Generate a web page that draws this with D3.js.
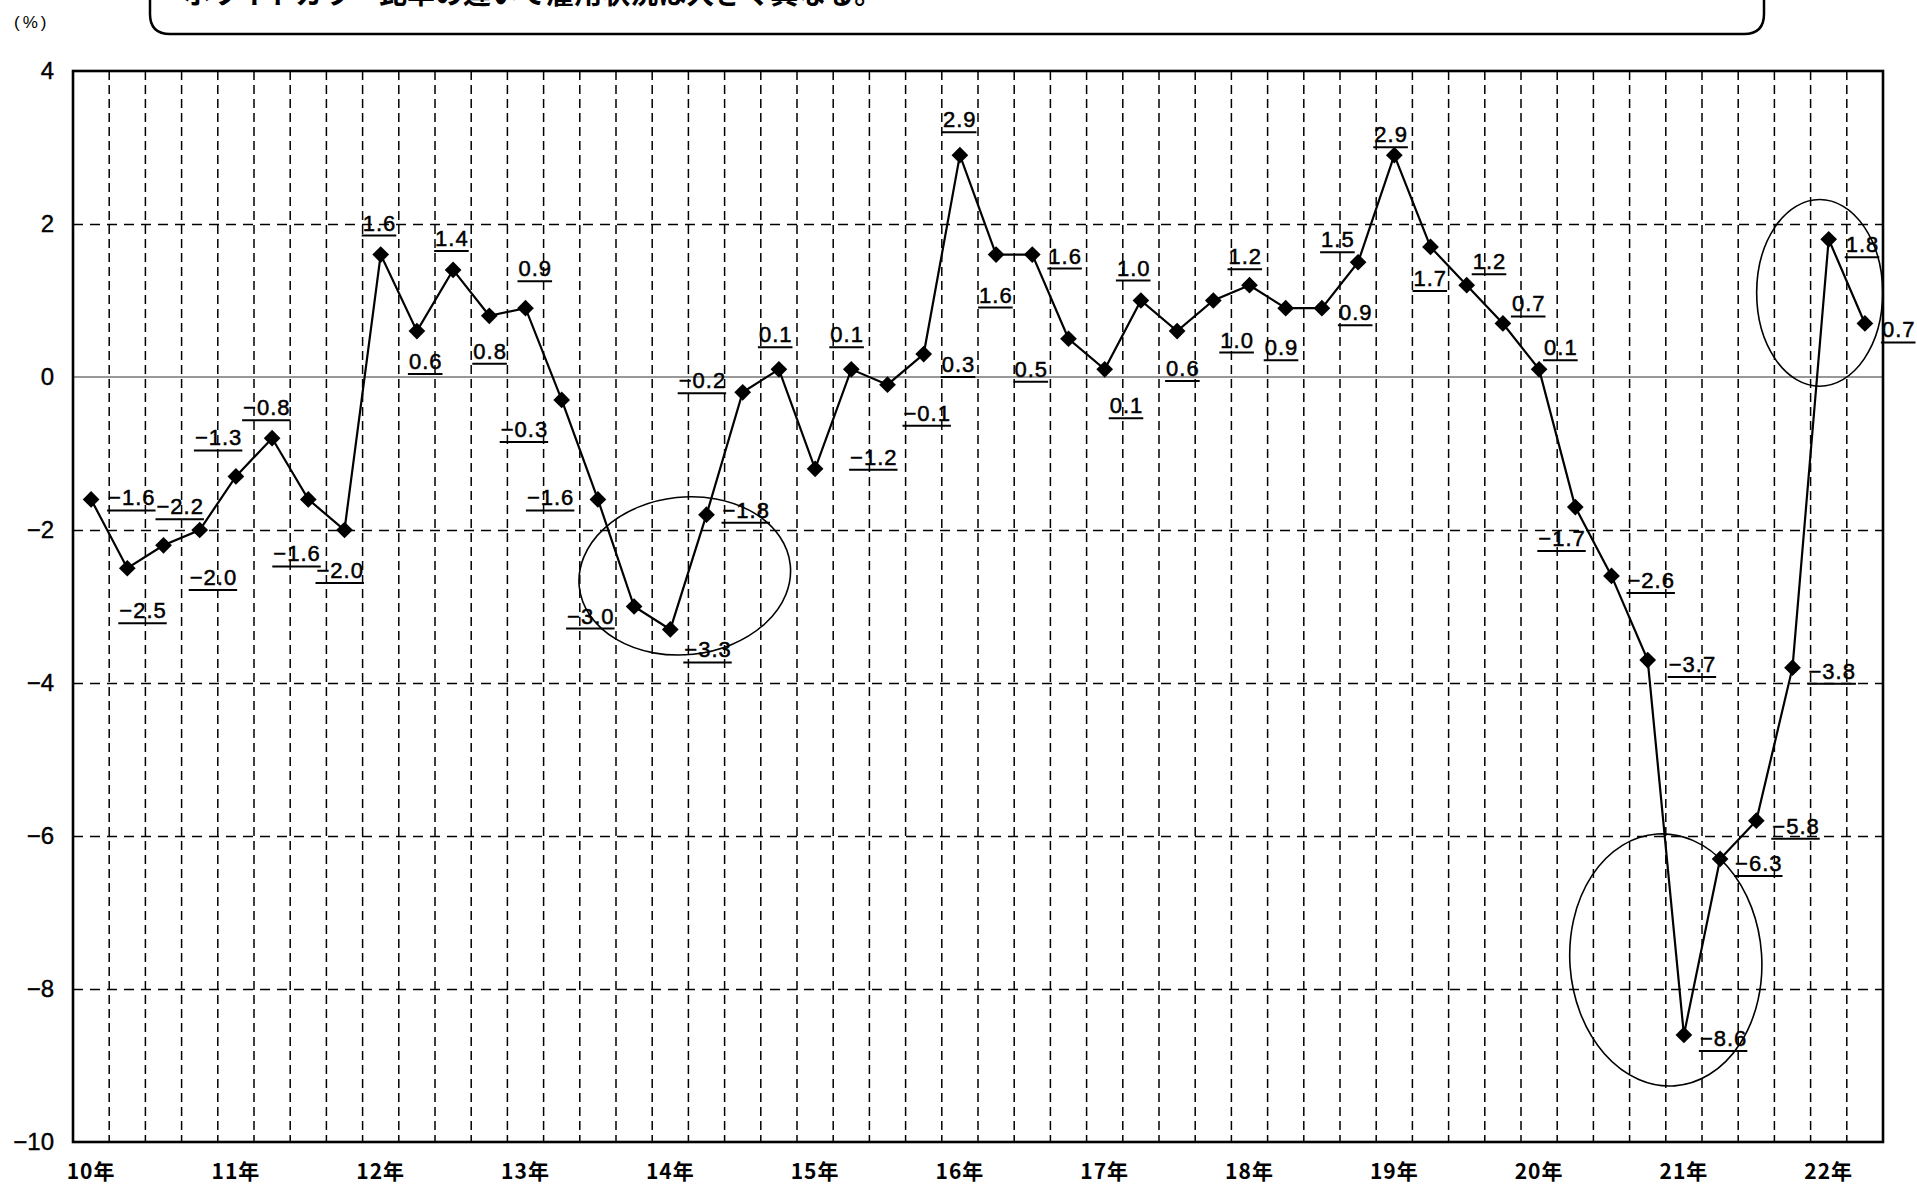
<!DOCTYPE html>
<html>
<head>
<meta charset="utf-8">
<script src="https://cdn.jsdelivr.net/npm/d3@7"></script>
<style>
  body { margin: 0; background: #fff; }
  svg { display: block; }
  .tick text { fill: #000; }
</style>
</head>
<body>
<svg width="1917" height="1189"></svg>
<script>
// years shown on the x axis, 4 quarters each (22年 has only 2)
const years = ['10年', '11年', '12年', '13年', '14年', '15年', '16年', '17年', '18年', '19年', '20年', '21年', '22年'];
const quarterCount = [4, 4, 4, 4, 4, 4, 4, 4, 4, 4, 4, 4, 2];

// % change
const values = [
  -1.6, -2.5, -2.2, -2.0,
  -1.3, -0.8, -1.6, -2.0,
  1.6, 0.6, 1.4, 0.8,
  0.9, -0.3, -1.6, -3.0,
  -3.3, -1.8, -0.2, 0.1,
  -1.2, 0.1, -0.1, 0.3,
  2.9, 1.6, 1.6, 0.5,
  0.1, 1.0, 0.6, 1.0,
  1.2, 0.9, 0.9, 1.5,
  2.9, 1.7, 1.2, 0.7,
  0.1, -1.7, -2.6, -3.7,
  -8.6, -6.3, -5.8, -3.8,
  1.8, 0.7
];

const yTicks = [4, 2, 0, -2, -4, -6, -8, -10];
const yGrid = [2, -2, -4, -6, -8];

// where each value label sits relative to its point [dx, dy of baseline]
const labelOffsets = [
  [17, 6], [-8, 50], [-7, -31], [-10, 55],
  [-41, -31], [-29, -23], [-35, 62], [-28, 48],
  [-18, -24], [-8, 38], [-18, -24], [-16, 43],
  [-7, -32], [-61, 37], [-71, 6], [-67, 17],
  [14, 28], [16, 3], [-64, -4], [-20, -27],
  [35, -4], [-21, -27], [16, 36], [18, 18],
  [-17, -28], [-17, 48], [16, 9], [-54, 38],
  [5, 44], [-24, -25], [-11, 45], [7, 47],
  [-21, -21], [-21, 47], [17, 12], [-37, -15],
  [-20, -13], [-17, 39], [6, -16], [9, -12],
  [5, -14], [-37, 39], [16, 12], [21, 12],
  [16, 11], [15, 12], [16, 13], [16, 11],
  [17, 13], [17, 14]
];

// hand drawn ellipses: centre (index, value), half sizes (steps, value units)
const circled = [
  { at: 16.4, value: -2.6, rx: 2.93, ry: 1.03, rot: -6 },
  { at: 43.5, value: -7.62, rx: 2.65, ry: 1.65, rot: -4 },
  { at: 47.75, value: 1.1, rx: 1.74, ry: 1.22, rot: 0 }
];

const headline = 'ホワイトカラー比率の違いで雇用状況は大きく異なる。';

let svg, g, x, y, width, height, margin;
let categories = [];

function setSVG() {
  svg = d3.select('svg');
  margin = { top: 71, right: 34, bottom: 47, left: 73 };
  width = +svg.attr('width') - margin.left - margin.right;
  height = +svg.attr('height') - margin.top - margin.bottom;

  years.forEach(function (yr, i) {
    for (let q = 1; q <= quarterCount[i]; q++) {
      categories.push(yr + q);
    }
  });

  x = d3.scaleBand().domain(categories).range([0, width]).padding(0);
  y = d3.scaleLinear().domain([-10, 4]).range([height, 0]);

  g = svg
    .append('g')
    .attr('transform', 'translate(' + margin.left + ',' + margin.top + ')');
}

function setHeadline() {
  // box runs off the top of the page, only its bottom is visible
  const x0 = 150, x1 = 1764, yb = 34, r = 20;
  svg
    .append('path')
    .attr('d', 'M' + x0 + ',-20 L' + x0 + ',' + (yb - r) +
      ' Q' + x0 + ',' + yb + ' ' + (x0 + r) + ',' + yb +
      ' L' + (x1 - r) + ',' + yb +
      ' Q' + x1 + ',' + yb + ' ' + x1 + ',' + (yb - r) +
      ' L' + x1 + ',-20')
    .attr('fill', 'none')
    .attr('stroke', '#000')
    .attr('stroke-width', 2.5);

  svg
    .append('text')
    .attr('x', 183)
    .attr('y', 4)
    .attr('font-family', '"Noto Sans CJK JP", sans-serif')
    .attr('font-weight', 'bold')
    .attr('font-size', 28)
    .text(headline);

  svg
    .append('text')
    .attr('x', 14)
    .attr('y', 28)
    .attr('font-family', '"Liberation Sans", Arial, sans-serif')
    .attr('font-size', 17)
    .attr('letter-spacing', 3)
    .text('(%)');
}

function setGrid() {
  // vertical dashed lines between quarters
  g.append('g')
    .attr('class', 'vgrid')
    .selectAll('line')
    .data(categories.slice(1))
    .enter()
    .append('line')
    .attr('x1', function (d) { return x(d); })
    .attr('x2', function (d) { return x(d); })
    .attr('y1', 0)
    .attr('y2', height)
    .attr('stroke', '#000')
    .attr('stroke-width', 1.5)
    .attr('stroke-dasharray', '9,5');

  g.append('g')
    .attr('class', 'grid')
    .call(d3.axisLeft(y).tickValues(yGrid).tickSize(-width).tickFormat(''))
    .call(function (s) { s.select('.domain').remove(); })
    .selectAll('line')
    .attr('stroke', '#000')
    .attr('stroke-width', 1.5)
    .attr('stroke-dasharray', '10,7');

  g.append('line')
    .attr('x1', 0)
    .attr('x2', width)
    .attr('y1', y(0))
    .attr('y2', y(0))
    .attr('stroke', '#333')
    .attr('stroke-width', 1.2);
}

function setAxes() {
  g.append('g')
    .attr('class', 'y-axis axis')
    .call(d3.axisLeft(y).tickValues(yTicks).tickSize(0).tickPadding(19).tickFormat(d3.format('d')))
    .call(function (s) { s.select('.domain').remove(); })
    .selectAll('text')
    .attr('font-family', '"Liberation Sans", Arial, sans-serif')
    .attr('font-size', 24)
    .attr('stroke', '#000')
    .attr('stroke-width', 0.4);

  const yearStarts = [];
  let k = 0;
  quarterCount.forEach(function (n) {
    yearStarts.push(categories[k]);
    k += n;
  });

  g.append('g')
    .attr('class', 'x-axis axis')
    .attr('transform', 'translate(0,' + height + ')')
    .call(d3.axisBottom(x).tickValues(yearStarts).tickSize(0).tickPadding(22)
      .tickFormat(function (d, i) { return years[i]; }))
    .call(function (s) { s.select('.domain').remove(); })
    .selectAll('text')
    .attr('font-family', '"Noto Sans CJK JP", sans-serif')
    .attr('font-weight', 'bold')
    .attr('font-size', 21)
    .attr('letter-spacing', 1);

  // frame
  g.append('rect')
    .attr('x', 0)
    .attr('y', 0)
    .attr('width', width)
    .attr('height', height)
    .attr('fill', 'none')
    .attr('stroke', '#000')
    .attr('stroke-width', 2.6);
}

function cx(i) {
  return x(categories[i]) + x.bandwidth() / 2;
}

function setLine() {
  const line = d3
    .line()
    .x(function (d, i) { return cx(i); })
    .y(function (d) { return y(d); });

  g.append('path')
    .datum(values)
    .attr('fill', 'none')
    .attr('stroke', '#000')
    .attr('stroke-width', 2.2)
    .attr('d', line);

  g.append('g')
    .selectAll('path')
    .data(values)
    .enter()
    .append('path')
    .attr('d', d3.symbol(d3.symbolSquare, 140))
    .attr('transform', function (d, i) {
      return 'translate(' + cx(i) + ',' + y(d) + ') rotate(45)';
    })
    .attr('fill', '#000');
}

function setLabels() {
  const fmt = d3.format('.1f');
  const labelG = g
    .append('g')
    .selectAll('g')
    .data(values)
    .enter()
    .append('g')
    .attr('transform', function (d, i) {
      return 'translate(' + (cx(i) + labelOffsets[i][0]) + ',' + (y(d) + labelOffsets[i][1]) + ')';
    });

  labelG
    .append('text')
    .attr('font-family', '"Liberation Sans", Arial, sans-serif')
    .attr('font-size', 22)
    .attr('letter-spacing', 1)
    .attr('stroke', '#000')
    .attr('stroke-width', 0.5)
    .text(function (d) { return fmt(d); });

  labelG.each(function () {
    const grp = d3.select(this);
    const w = grp.select('text').node().getComputedTextLength();
    grp
      .append('line')
      .attr('x1', -1)
      .attr('x2', w)
      .attr('y1', 5)
      .attr('y2', 5)
      .attr('stroke', '#000')
      .attr('stroke-width', 2);
  });
}

function setCircles() {
  const step = x.step();
  const unit = y(0) - y(1);
  g.append('g')
    .selectAll('ellipse')
    .data(circled)
    .enter()
    .append('ellipse')
    .attr('cx', 0)
    .attr('cy', 0)
    .attr('rx', function (d) { return d.rx * step; })
    .attr('ry', function (d) { return d.ry * unit; })
    .attr('transform', function (d) {
      const px = x(categories[0]) + x.bandwidth() / 2 + d.at * step;
      return 'translate(' + px + ',' + y(d.value) + ') rotate(' + d.rot + ')';
    })
    .attr('fill', 'none')
    .attr('stroke', '#000')
    .attr('stroke-width', 1.6);
}

setSVG();
setHeadline();
setGrid();
setAxes();
setLine();
setLabels();
setCircles();
</script>
</body>
</html>
